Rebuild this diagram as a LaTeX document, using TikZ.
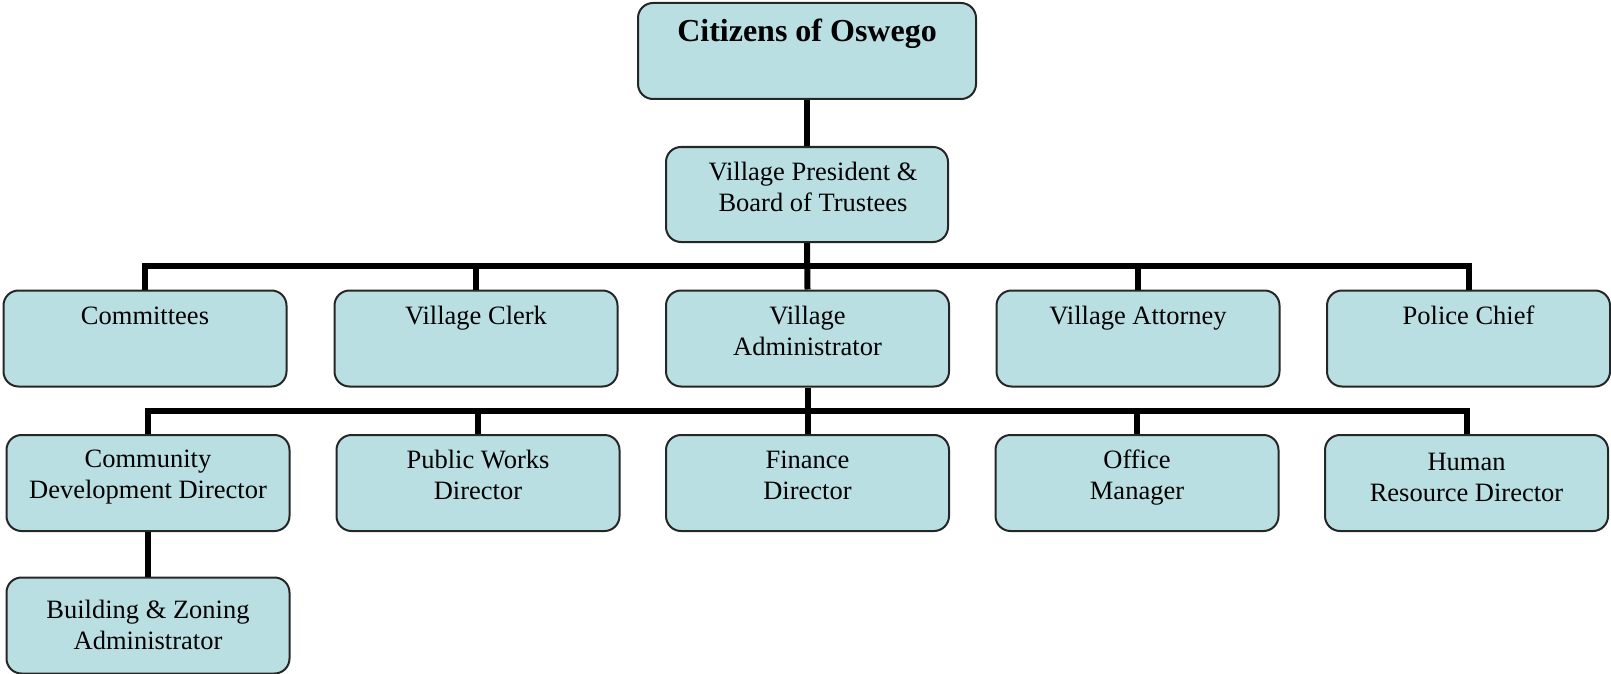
\documentclass[tikz,border=0pt]{standalone}
\usepackage{fontspec}
\setmainfont{Liberation Serif}
\definecolor{boxfill}{HTML}{B9DFE3}
\begin{document}
\begin{tikzpicture}[x=0.5pt,y=-0.5pt,
  orgbox/.style={draw=black!85,line width=1pt,fill=boxfill,rounded corners=7.5pt,
    minimum width=141.5pt,minimum height=48pt,inner sep=0pt},
  txt/.style={anchor=north,inner sep=0pt,align=center,
    font=\fontsize{13.25}{15.5}\selectfont},
  conn/.style={line width=3pt,draw=black,line join=miter}]
\useasboundingbox (0,0) rectangle (1611,674);
% boxes
\node[orgbox,minimum width=169pt] (cit) at (807,51) {};
\node[orgbox,minimum width=141pt,minimum height=47.5pt] (pres) at (807,194.5) {};
\node[orgbox] (com) at (145,338.5) {};
\node[orgbox] (clerk) at (476,338.5) {};
\node[orgbox] (adm) at (807.5,338.5) {};
\node[orgbox] (att) at (1138,338.5) {};
\node[orgbox] (pol) at (1468.5,338.5) {};
\node[orgbox] (cdd) at (148,483) {};
\node[orgbox] (pwd) at (478,483) {};
\node[orgbox] (fin) at (807.5,483) {};
\node[orgbox] (off) at (1137,483) {};
\node[orgbox] (hrd) at (1466.5,483) {};
\node[orgbox] (bza) at (148,625.5) {};
% texts
\node[txt,font=\fontsize{16}{19}\selectfont\bfseries] (tcit) at ([yshift=-8.5pt]cit.north) {Citizens of Oswego};
\node[txt] (tpres) at ([xshift=3pt,yshift=-7.75pt]pres.north) {Village President \&\\Board of Trustees};
\node[txt] (tcom) at ([yshift=-8.5pt]com.north) {Committees};
\node[txt] (tclerk) at ([yshift=-8pt]clerk.north) {Village Clerk};
\node[txt] (tadm) at ([yshift=-8pt]adm.north) {Village\\Administrator};
\node[txt] (tatt) at ([yshift=-8pt]att.north) {Village Attorney};
\node[txt] (tpol) at ([yshift=-8pt]pol.north) {Police Chief};
\node[txt] (tcdd) at ([yshift=-8pt]cdd.north) {Community\\Development Director};
\node[txt] (tpwd) at ([yshift=-8pt]pwd.north) {Public Works\\Director};
\node[txt] (tfin) at ([yshift=-8.5pt]fin.north) {Finance\\Director};
\node[txt] (toff) at ([yshift=-7.75pt]off.north) {Office\\Manager};
\node[txt] (thrd) at ([yshift=-9.5pt]hrd.north) {Human\\Resource Director};
\node[txt] (tbza) at ([yshift=-11.5pt]bza.north) {Building \& Zoning\\Administrator};
% connectors
\coordinate (bus1) at (807.5,266);
\coordinate (bus2) at (807.5,411);
\draw[conn] (cit.south) -- (pres.north);
\draw[conn] (pres.south) -- (adm.north);
\draw[conn] (com.north) |- (bus1) -| (pol.north);
\draw[conn] (clerk.north) -- (clerk.north |- bus1);
\draw[conn] (att.north) -- (att.north |- bus1);
\draw[conn] (adm.south) -- (fin.north);
\draw[conn] (cdd.north) |- (bus2) -| (hrd.north);
\draw[conn] (pwd.north) -- (pwd.north |- bus2);
\draw[conn] (off.north) -- (off.north |- bus2);
\draw[conn] (cdd.south) -- (bza.north);
\end{tikzpicture}
\end{document}
